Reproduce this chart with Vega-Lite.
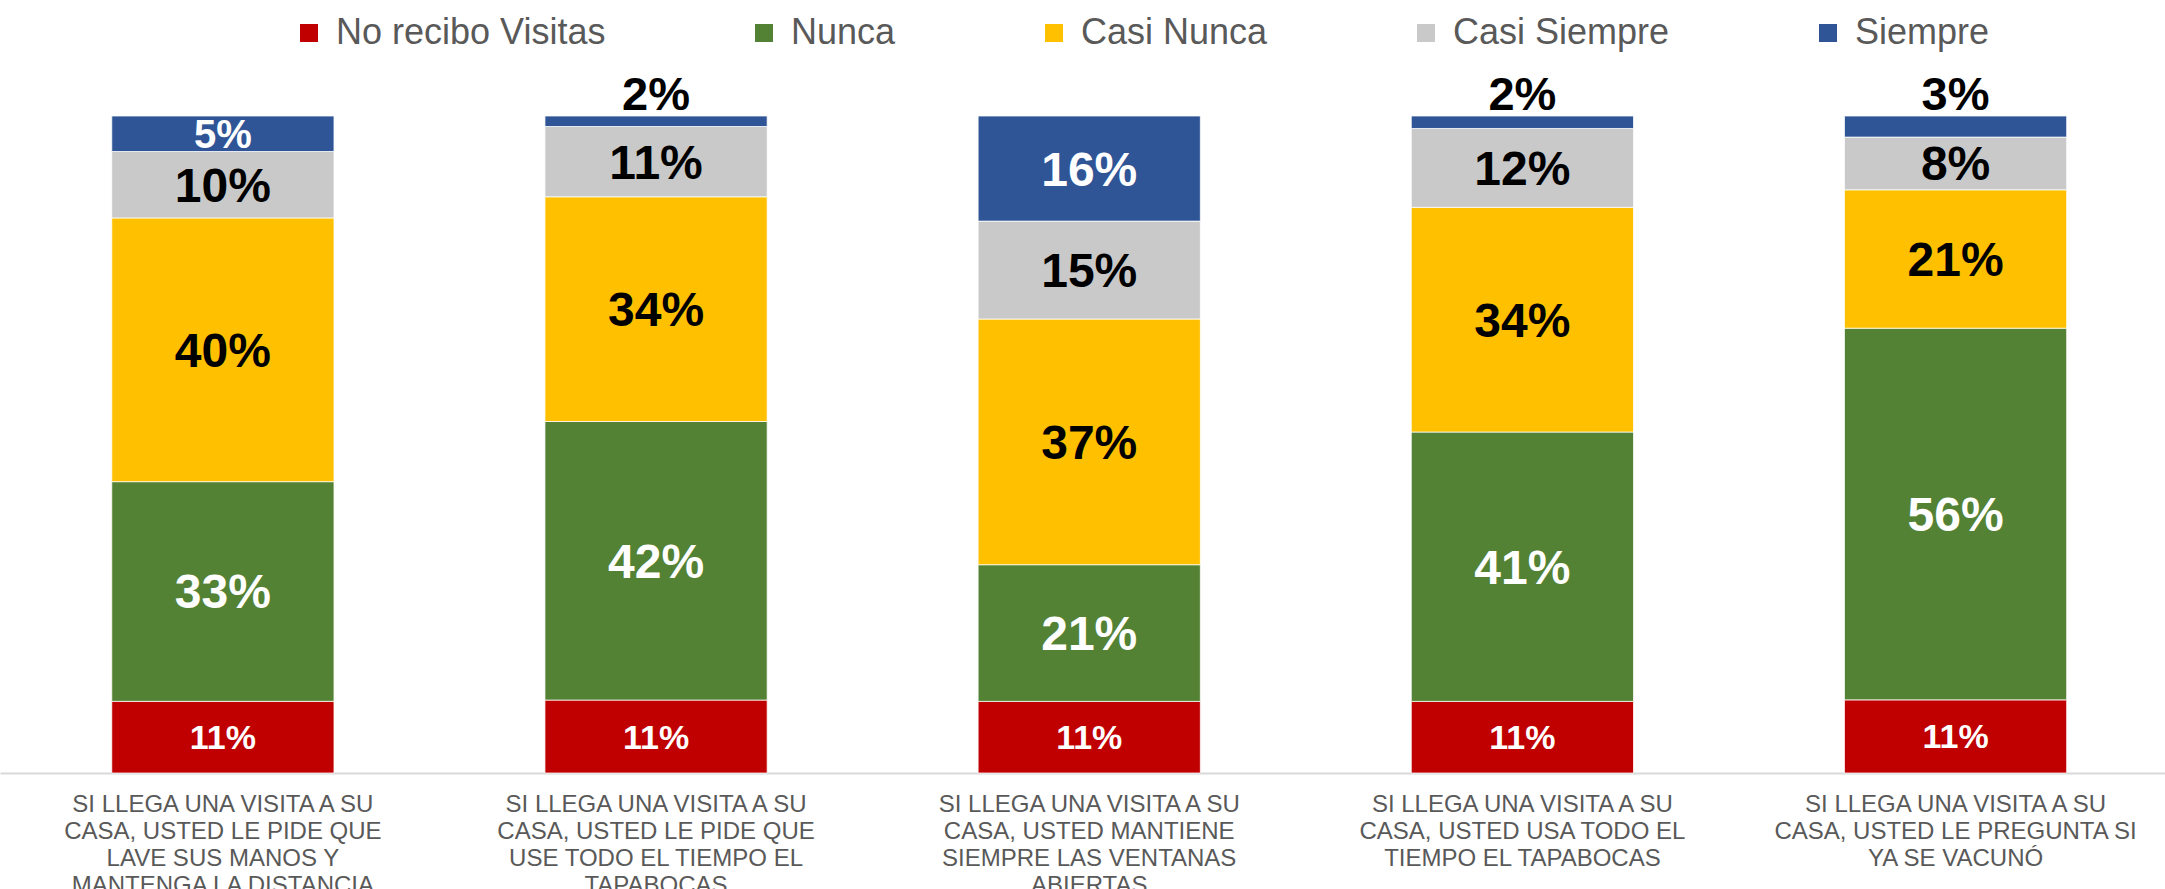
{
  "$schema": "https://vega.github.io/schema/vega-lite/v6.json",
  "width": 2165,
  "height": 657,
  "autosize": {"type": "none"},
  "padding": {"left": 0, "right": 0, "top": 116, "bottom": 116},
  "background": "white",
  "config": {"view": {"stroke": null}, "font": "Liberation Sans"},
  "data": {
    "values": [
      {"q": "SI LLEGA UNA VISITA A SU|CASA, USTED LE PIDE QUE|LAVE SUS MANOS Y|MANTENGA LA DISTANCIA", "cat": "No recibo Visitas", "order": 1, "value": 0.109},
      {"q": "SI LLEGA UNA VISITA A SU|CASA, USTED LE PIDE QUE|LAVE SUS MANOS Y|MANTENGA LA DISTANCIA", "cat": "Nunca", "order": 2, "value": 0.334},
      {"q": "SI LLEGA UNA VISITA A SU|CASA, USTED LE PIDE QUE|LAVE SUS MANOS Y|MANTENGA LA DISTANCIA", "cat": "Casi Nunca", "order": 3, "value": 0.401},
      {"q": "SI LLEGA UNA VISITA A SU|CASA, USTED LE PIDE QUE|LAVE SUS MANOS Y|MANTENGA LA DISTANCIA", "cat": "Casi Siempre", "order": 4, "value": 0.101},
      {"q": "SI LLEGA UNA VISITA A SU|CASA, USTED LE PIDE QUE|LAVE SUS MANOS Y|MANTENGA LA DISTANCIA", "cat": "Siempre", "order": 5, "value": 0.054},
      {"q": "SI LLEGA UNA VISITA A SU|CASA, USTED LE PIDE QUE|USE TODO EL TIEMPO EL|TAPABOCAS", "cat": "No recibo Visitas", "order": 1, "value": 0.111},
      {"q": "SI LLEGA UNA VISITA A SU|CASA, USTED LE PIDE QUE|USE TODO EL TIEMPO EL|TAPABOCAS", "cat": "Nunca", "order": 2, "value": 0.424},
      {"q": "SI LLEGA UNA VISITA A SU|CASA, USTED LE PIDE QUE|USE TODO EL TIEMPO EL|TAPABOCAS", "cat": "Casi Nunca", "order": 3, "value": 0.342},
      {"q": "SI LLEGA UNA VISITA A SU|CASA, USTED LE PIDE QUE|USE TODO EL TIEMPO EL|TAPABOCAS", "cat": "Casi Siempre", "order": 4, "value": 0.107},
      {"q": "SI LLEGA UNA VISITA A SU|CASA, USTED LE PIDE QUE|USE TODO EL TIEMPO EL|TAPABOCAS", "cat": "Siempre", "order": 5, "value": 0.016},
      {"q": "SI LLEGA UNA VISITA A SU|CASA, USTED MANTIENE|SIEMPRE LAS VENTANAS|ABIERTAS", "cat": "No recibo Visitas", "order": 1, "value": 0.109},
      {"q": "SI LLEGA UNA VISITA A SU|CASA, USTED MANTIENE|SIEMPRE LAS VENTANAS|ABIERTAS", "cat": "Nunca", "order": 2, "value": 0.208},
      {"q": "SI LLEGA UNA VISITA A SU|CASA, USTED MANTIENE|SIEMPRE LAS VENTANAS|ABIERTAS", "cat": "Casi Nunca", "order": 3, "value": 0.374},
      {"q": "SI LLEGA UNA VISITA A SU|CASA, USTED MANTIENE|SIEMPRE LAS VENTANAS|ABIERTAS", "cat": "Casi Siempre", "order": 4, "value": 0.149},
      {"q": "SI LLEGA UNA VISITA A SU|CASA, USTED MANTIENE|SIEMPRE LAS VENTANAS|ABIERTAS", "cat": "Siempre", "order": 5, "value": 0.16},
      {"q": "SI LLEGA UNA VISITA A SU|CASA, USTED USA TODO EL|TIEMPO EL TAPABOCAS", "cat": "No recibo Visitas", "order": 1, "value": 0.109},
      {"q": "SI LLEGA UNA VISITA A SU|CASA, USTED USA TODO EL|TIEMPO EL TAPABOCAS", "cat": "Nunca", "order": 2, "value": 0.41},
      {"q": "SI LLEGA UNA VISITA A SU|CASA, USTED USA TODO EL|TIEMPO EL TAPABOCAS", "cat": "Casi Nunca", "order": 3, "value": 0.342},
      {"q": "SI LLEGA UNA VISITA A SU|CASA, USTED USA TODO EL|TIEMPO EL TAPABOCAS", "cat": "Casi Siempre", "order": 4, "value": 0.12},
      {"q": "SI LLEGA UNA VISITA A SU|CASA, USTED USA TODO EL|TIEMPO EL TAPABOCAS", "cat": "Siempre", "order": 5, "value": 0.019},
      {"q": "SI LLEGA UNA VISITA A SU|CASA, USTED LE PREGUNTA SI|YA SE VACUNÓ", "cat": "No recibo Visitas", "order": 1, "value": 0.111},
      {"q": "SI LLEGA UNA VISITA A SU|CASA, USTED LE PREGUNTA SI|YA SE VACUNÓ", "cat": "Nunca", "order": 2, "value": 0.564},
      {"q": "SI LLEGA UNA VISITA A SU|CASA, USTED LE PREGUNTA SI|YA SE VACUNÓ", "cat": "Casi Nunca", "order": 3, "value": 0.21},
      {"q": "SI LLEGA UNA VISITA A SU|CASA, USTED LE PREGUNTA SI|YA SE VACUNÓ", "cat": "Casi Siempre", "order": 4, "value": 0.08},
      {"q": "SI LLEGA UNA VISITA A SU|CASA, USTED LE PREGUNTA SI|YA SE VACUNÓ", "cat": "Siempre", "order": 5, "value": 0.032}
    ]
  },
  "transform": [
    {"stack": "value", "groupby": ["q"], "sort": [{"field": "order", "order": "ascending"}], "offset": "normalize", "as": ["y0", "y1"]},
    {"calculate": "(datum.y0 + datum.y1) / 2", "as": "ymid"}
  ],
  "encoding": {
    "x": {
      "field": "q",
      "type": "nominal",
      "sort": null,
      "scale": {"paddingInner": 0.487, "paddingOuter": 0.2425, "align": 0.532},
      "axis": {
        "title": null,
        "domainColor": "#d9d9d9",
        "domainWidth": 2,
        "ticks": false,
        "labelAngle": 0,
        "labelFont": "Liberation Sans",
        "labelFontSize": 24,
        "labelColor": "#595959",
        "labelLineHeight": 27,
        "labelPadding": 19,
        "labelLimit": 0,
        "labelExpr": "split(datum.value, '|')"
      }
    }
  },
  "layer": [
    {
      "mark": {"type": "bar", "stroke": "white", "strokeWidth": 0.75},
      "encoding": {
        "y": {"field": "y0", "type": "quantitative", "scale": {"domain": [0, 1]}, "axis": null},
        "y2": {"field": "y1"},
        "color": {
          "field": "cat",
          "type": "nominal",
          "scale": {
            "domain": ["No recibo Visitas", "Nunca", "Casi Nunca", "Casi Siempre", "Siempre"],
            "range": ["#C00000", "#548235", "#FFC000", "#C9C9C9", "#2F5597"]
          },
          "legend": {
            "orient": "none",
            "legendX": 291,
            "legendY": -101,
            "direction": "horizontal",
            "title": null,
            "symbolType": "square",
            "symbolSize": 324,
            "symbolStrokeWidth": 0,
            "labelFont": "Liberation Sans",
            "labelFontSize": 36,
            "labelColor": "#595959",
            "labelOffset": 9,
            "labelLimit": 0,
            "columnPadding": 140
          }
        }
      }
    },
    {
      "transform": [{"filter": "datum.cat == 'No recibo Visitas'"}],
      "mark": {"type": "text", "fontSize": 34, "fontWeight": "bold", "color": "white", "baseline": "middle", "dy": 2},
      "encoding": {
        "y": {"field": "ymid", "type": "quantitative"},
        "text": {"field": "value", "type": "quantitative", "format": ".0%"}
      }
    },
    {
      "transform": [{"filter": "datum.cat == 'Nunca' || (datum.cat == 'Siempre' && datum.value >= 0.1)"}],
      "mark": {"type": "text", "fontSize": 48, "fontWeight": "bold", "color": "white", "baseline": "middle", "dy": 3},
      "encoding": {
        "y": {"field": "ymid", "type": "quantitative"},
        "text": {"field": "value", "type": "quantitative", "format": ".0%"}
      }
    },
    {
      "transform": [{"filter": "datum.cat == 'Siempre' && datum.value >= 0.05 && datum.value < 0.1"}],
      "mark": {"type": "text", "fontSize": 40, "fontWeight": "bold", "color": "white", "baseline": "middle", "dy": 2},
      "encoding": {
        "y": {"field": "ymid", "type": "quantitative"},
        "text": {"field": "value", "type": "quantitative", "format": ".0%"}
      }
    },
    {
      "transform": [{"filter": "datum.cat == 'Casi Nunca' || datum.cat == 'Casi Siempre'"}],
      "mark": {"type": "text", "fontSize": 48, "fontWeight": "bold", "color": "black", "baseline": "middle", "dy": 3},
      "encoding": {
        "y": {"field": "ymid", "type": "quantitative"},
        "text": {"field": "value", "type": "quantitative", "format": ".0%"}
      }
    },
    {
      "transform": [{"filter": "datum.cat == 'Siempre' && datum.value < 0.05"}],
      "mark": {"type": "text", "fontSize": 47, "fontWeight": "bold", "color": "black", "baseline": "alphabetic", "dy": -6},
      "encoding": {
        "y": {"field": "y1", "type": "quantitative"},
        "text": {"field": "value", "type": "quantitative", "format": ".0%"}
      }
    }
  ]
}
